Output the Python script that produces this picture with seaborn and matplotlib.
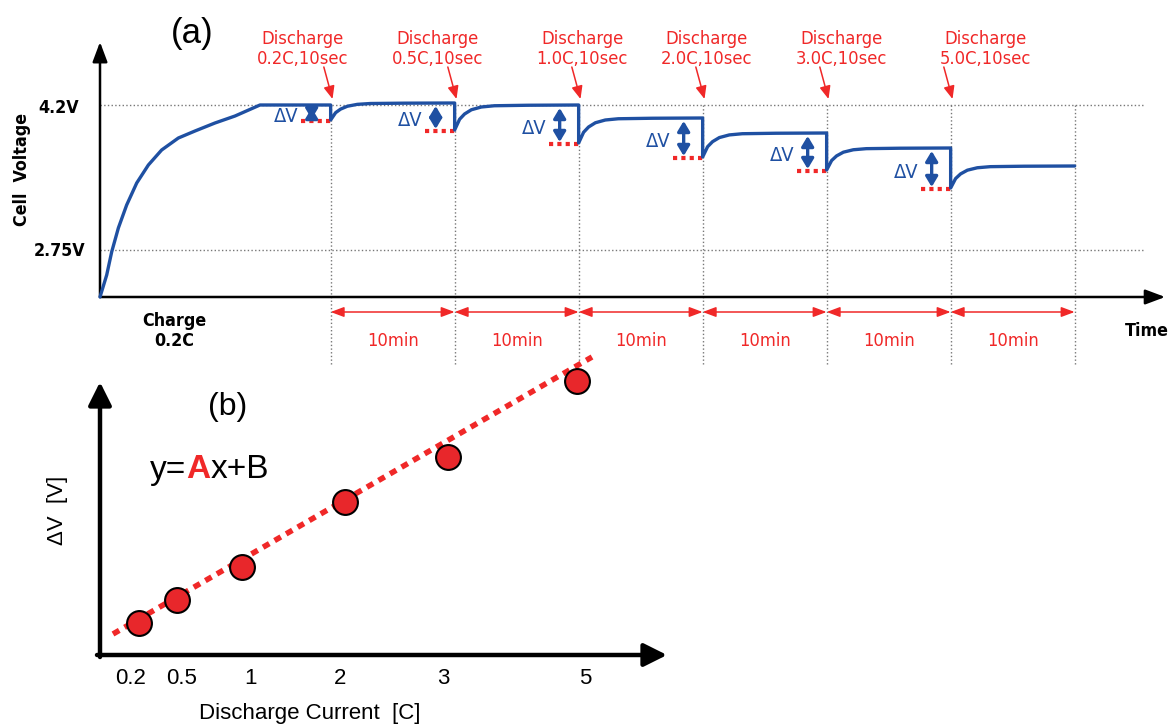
import pandas as pd
import matplotlib.pyplot as plt
import seaborn as sns
from matplotlib import font_manager

# ---- panel (a): cell voltage vs time (time in min, voltage in V) ----
charge_t = [0, 0.54, 0.94, 1.48, 2.15, 2.96, 3.90, 4.97, 6.32, 7.66, 9.27, 10.89, 12.9]
charge_v = [2.28, 2.50, 2.73, 2.97, 3.20, 3.42, 3.60, 3.75, 3.87, 3.94, 4.02, 4.09, 4.20]

pulse_t = [18.6, 28.6, 38.6, 48.6, 58.6, 68.6]
end_t = 78.6
pulse_rate = ['0.2C', '0.5C', '1.0C', '2.0C', '3.0C', '5.0C']
pre_v = [4.20, 4.22, 4.20, 4.07, 3.92, 3.77]
bottom_v = [4.05, 3.95, 3.82, 3.68, 3.55, 3.37]
rest_end_v = 3.59

# relaxation after a pulse: time after pulse and fraction recovered
relax_dt = [0, 0.4, 0.8, 1.35, 2.15, 3.2, 5.9, 10.0]
relax_frac = [0, 0.43, 0.64, 0.81, 0.92, 0.97, 0.99, 1.0]

# where the "Discharge" captions sit (min)
label_t = [16.3, 27.2, 38.9, 48.9, 59.8, 71.4]

# ---- panel (b): dV vs discharge current (schematic positions) ----
b_pos = [0.39, 0.77, 1.42, 2.45, 3.48, 4.77]
b_dv = [0.32, 0.55, 0.88, 1.53, 1.98, 2.74]
b_tick_pos = [0.31, 0.82, 1.50, 2.40, 3.43, 4.85]
b_tick_lab = ['0.2', '0.5', '1', '2', '3', '5']
fit_x = [0.13, 4.92]
fit_y = [0.21, 2.98]

blue = '#1f50a2'
red = '#f02828'
grey = '#777777'

sns.set_theme(style='white')
plt.rcParams['font.family'] = ['Liberation Sans', 'DejaVu Sans']
plt.rcParams['text.color'] = 'black'

installed = {f.name for f in font_manager.fontManager.ttflist}
if 'Liberation Sans Narrow' in installed:
    narrow, k = 'Liberation Sans Narrow', 1.0
else:
    narrow, k = 'DejaVu Sans', 0.85

fig = plt.figure(figsize=(11.7, 7.24), dpi=100)

# ================= panel (a) =================
ax_a = fig.add_axes([0, 1 - 370 / 724, 1, 370 / 724])

marks_t = pulse_t + [end_t]

# dotted guide lines
for v in [4.2, 2.75]:
    ax_a.plot([0, 84.3], [v, v], ls=':', color=grey, lw=1, zorder=1)
for t in marks_t:
    ax_a.plot([t, t], [4.2, 1.6], ls=':', color=grey, lw=1, zorder=1)

# voltage trace
curve_t = list(charge_t)
curve_v = list(charge_v)
levels_after = pre_v[1:] + [rest_end_v]
for tp, v0, vb, v1 in zip(pulse_t, pre_v, bottom_v, levels_after):
    curve_t += [tp] + [tp + d for d in relax_dt]
    curve_v += [v0] + [vb + f * (v1 - vb) for f in relax_frac]
curve = pd.DataFrame({'t': curve_t, 'v': curve_v})
sns.lineplot(data=curve, x='t', y='v', sort=False, estimator=None,
             color=blue, lw=2.4, ax=ax_a, zorder=4)
ax_a.set_xlim(-8.065, 86.29)
ax_a.set_ylim(1.55, 5.25)
ax_a.axis('off')

# axes with arrows
arrow_k = dict(arrowstyle='-|>,head_length=0.8,head_width=0.3', color='black',
               lw=1.8, mutation_scale=15, shrinkA=0, shrinkB=0)
ax_a.annotate('', xy=(0, 4.83), xytext=(0, 2.28), arrowprops=arrow_k, zorder=3)
ax_a.annotate('', xy=(85.9, 2.28), xytext=(0, 2.28), arrowprops=arrow_k, zorder=3)

for tp, v0, vb, rate, lt in zip(pulse_t, pre_v, bottom_v, pulse_rate, label_t):
    # red dotted line at the bottom of the drop
    ax_a.plot([tp - 2.4, tp + 0.25], [vb - 0.01, vb - 0.01], color=red, lw=3,
              ls=(0, (1, 1)), zorder=3)
    # blue double arrow for dV
    ax_a.annotate('', xy=(tp - 1.53, vb + 0.01), xytext=(tp - 1.53, v0 - 0.03),
                  arrowprops=dict(arrowstyle='<|-|>,head_length=0.5,head_width=0.3',
                                  color=blue, lw=2.4, mutation_scale=12,
                                  shrinkA=0, shrinkB=0), zorder=5)
    ax_a.text(tp - 3.6, (v0 + vb) / 2 - 0.04, 'ΔV', color=blue, ha='center',
              va='center', fontsize=17 * k, family=narrow, fontstretch='condensed')
    # caption and pointer
    ax_a.text(lt, 4.76, 'Discharge\n' + rate + ',10sec', color=red, ha='center',
              va='center', fontsize=15.5 * k, family=narrow, linespacing=1.15,
              fontstretch='condensed')
    ax_a.annotate('', xy=(tp + 0.15, 4.26), xytext=(tp - 0.55, 4.58),
                  arrowprops=dict(arrowstyle='-|>,head_length=0.7,head_width=0.3',
                                  color=red, lw=1.1, mutation_scale=11,
                                  shrinkA=0, shrinkB=0), zorder=5)

# 10 min intervals
for t0, t1 in zip(marks_t[:-1], marks_t[1:]):
    ax_a.annotate('', xy=(t1, 2.13), xytext=(t0, 2.13),
                  arrowprops=dict(arrowstyle='<|-|>,head_length=0.8,head_width=0.3',
                                  color=red, lw=1.1, mutation_scale=10,
                                  shrinkA=0, shrinkB=0))
    ax_a.text((t0 + t1) / 2, 1.84, '10min', color=red, ha='center', va='center',
              fontsize=15.5 * k, family=narrow, fontstretch='condensed')

txt_k = dict(color='black', family=narrow, fontstretch='condensed',
             fontweight='bold', va='center')
ax_a.text(-3.3, 4.17, '4.2V', ha='center', fontsize=15 * k, **txt_k)
ax_a.text(-3.3, 2.74, '2.75V', ha='center', fontsize=15 * k, **txt_k)
ax_a.text(-6.3, 3.55, 'Cell  Voltage', ha='center', rotation=90, fontsize=15 * k, **txt_k)
ax_a.text(5.97, 1.94, 'Charge\n0.2C', ha='center', fontsize=15 * k, linespacing=1.2, **txt_k)
ax_a.text(84.4, 1.94, 'Time', ha='center', fontsize=15 * k, **txt_k)
ax_a.text(7.4, 4.92, '(a)', ha='center', va='center', fontsize=25, color='black')

# ================= panel (b) =================
ax_b = fig.add_axes([0, 0, 700 / 1170, 364 / 724])

ax_b.plot(fit_x, fit_y, color=red, lw=4, ls=(0, (1.3, 1.1)), zorder=2, clip_on=False)
pts = pd.DataFrame({'pos': b_pos, 'dv': b_dv})
sns.scatterplot(data=pts, x='pos', y='dv', s=320, color='#e8272b',
                edgecolor='black', linewidth=1.5, ax=ax_b, zorder=4)
ax_b.set_xlim(-1.0, 6.0)
ax_b.set_ylim(-0.69, 2.95)
ax_b.axis('off')

arrow_b = dict(arrowstyle='-|>,head_length=0.7,head_width=0.35', color='black',
               lw=3.2, mutation_scale=20, shrinkA=0, shrinkB=0)
ax_b.annotate('', xy=(0, 2.73), xytext=(0, -0.02), arrowprops=arrow_b)
ax_b.annotate('', xy=(5.67, 0), xytext=(-0.03, 0), arrowprops=arrow_b)

for p, lab in zip(b_tick_pos, b_tick_lab):
    ax_b.text(p, -0.23, lab, ha='center', va='center', fontsize=16, color='black')

ax_b.text(2.1, -0.58, 'Discharge Current  [C]', ha='center', va='center',
          fontsize=16, color='black')
ax_b.text(-0.43, 1.45, 'ΔV  [V]', ha='center', va='center', rotation=90,
          fontsize=16, color='black')
ax_b.text(1.28, 2.48, '(b)', ha='center', va='center', fontsize=23, color='black')

t1 = ax_b.text(0.5, 1.85, 'y=', ha='left', va='center', fontsize=24, color='black')
t2 = ax_b.annotate('A', xy=(1, 0), xycoords=t1, ha='left', va='bottom',
                   fontsize=24, color=red, fontweight='bold')
ax_b.annotate('x+B', xy=(1, 0), xycoords=t2, ha='left', va='bottom',
              fontsize=24, color='black')

fig.savefig('out.png', dpi=100)
plt.close(fig)
